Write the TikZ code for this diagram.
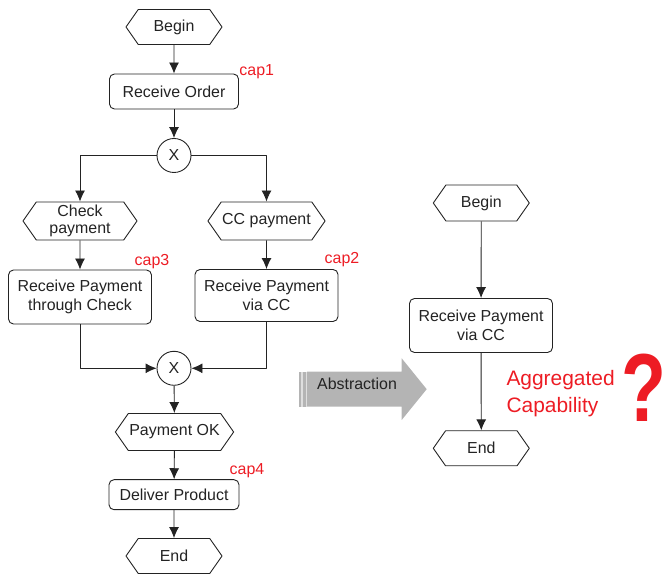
\documentclass[tikz,border=0pt]{standalone}
\usepackage{fontspec}
\setmainfont{Liberation Sans}
\usetikzlibrary{shapes.symbols,arrows.meta}
\definecolor{capred}{RGB}{237,28,36}
\definecolor{arrowgray}{RGB}{180,180,180}
\definecolor{stripegray}{RGB}{222,222,222}
\definecolor{linegray}{RGB}{35,35,35}
\begin{document}
\begin{tikzpicture}[>={Latex[length=11bp,width=10bp]},line join=bevel,
  every node/.style={font=\fontsize{16}{19}\selectfont,text=linegray},
  event/.style={draw=linegray,line width=0.9bp,signal,signal to=east and west,
    signal pointer angle=110,minimum width=96bp,minimum height=35bp,inner sep=1bp,align=center},
  func/.style={draw=linegray,line width=0.9bp,rounded corners=5bp,minimum height=30bp,align=center},
  xorgate/.style={draw=linegray,line width=0.9bp,circle,minimum size=34bp,inner sep=0pt},
  caplabel/.style={text=capred},
  flow/.style={draw=linegray,line width=0.9bp,->}]
\useasboundingbox (0bp,0bp) rectangle (666bp,576bp);
%% original process
\node (begin1) at (174bp,549bp) [event] {Begin};
  \node (order) at (174bp,484.5bp) [func,minimum width=129bp,minimum height=35bp] {Receive Order};
  \node (xor1) at (174bp,420.5bp) [xorgate] {X};
  \node (check) at (80bp,355bp) [event,minimum width=114bp,minimum height=38bp] {Check\\[-2bp]payment};
  \node (ccpay) at (266.5bp,355bp) [event,minimum width=113bp,minimum height=38bp] {CC payment};
  \node (rpcheck) at (80bp,279bp) [func,minimum width=143bp,minimum height=54bp] {Receive Payment\\through Check};
  \node (rpcc) at (266.5bp,280.5bp) [func,minimum width=143bp,minimum height=52bp] {Receive Payment\\via CC};
  \node (xor2) at (174bp,207.7bp) [xorgate] {X};
  \node (payok) at (174.5bp,144bp) [event,minimum width=114bp,minimum height=37bp] {Payment OK};
  \node (deliver) at (174bp,81.3bp) [func,minimum width=130bp] {Deliver Product};
  \node (end1) at (174bp,20bp) [event] {End};
  \node (cap1) at (256.7bp,504.3bp) [caplabel] {cap1};
  \node (cap2) at (342bp,316bp) [caplabel] {cap2};
  \node (cap3) at (152bp,314.3bp) [caplabel] {cap3};
  \node (cap4) at (247bp,105bp) [caplabel] {cap4};
  \draw [flow] (begin1) -- (order);
  \draw [flow] (order) -- (xor1);
  \draw [flow] (xor1) -| (check);
  \draw [flow] (xor1) -| (ccpay);
  \draw [flow] (check) -- (rpcheck);
  \draw [flow] (ccpay) -- (rpcc);
  \draw [flow] (rpcheck) |- (xor2);
  \draw [flow] (rpcc) |- (xor2);
  \draw [flow] (xor2) -- (payok);
  \draw [flow] (payok) -- (deliver);
  \draw [flow] (deliver) -- (end1);
%% abstraction arrow
\fill [arrowgray] (307bp,204.3bp) -- (401.7bp,204.3bp) -- (401.7bp,217.7bp) -- (426.7bp,186.8bp)
  -- (401.7bp,156bp) -- (401.7bp,169.3bp) -- (307bp,169.3bp) -- cycle;
\fill [arrowgray] (298.5bp,169.3bp) rectangle (301bp,204.3bp);
\fill [stripegray] (301bp,169.3bp) rectangle (302.5bp,204.3bp);
\fill [arrowgray] (302.5bp,169.3bp) rectangle (305.5bp,204.3bp);
\fill [stripegray] (305.5bp,169.3bp) rectangle (307bp,204.3bp);
\node (abstr) at (357bp,192bp) {Abstraction};
%% aggregated process
\node (begin2) at (481.3bp,373bp) [event,minimum height=36bp] {Begin};
  \node (rpcc2) at (481bp,250.5bp) [func,minimum width=143bp,minimum height=54bp] {Receive Payment\\via CC};
  \node (end2) at (481.3bp,127.7bp) [event] {End};
  \node (aggr) at (503bp,182.7bp) [anchor=west,align=left,text=capred,font=\fontsize{21}{27}\selectfont] {Aggregated\\Capability};
  \node (quest) at (643.5bp,188bp) [text=capred,font=\bfseries\fontsize{97}{97}\selectfont,inner sep=0pt,xscale=0.76,transform shape] {?};
  \draw [flow] (begin2) -- (rpcc2);
  \draw [flow] (rpcc2) -- (end2);
%
\end{tikzpicture}
\end{document}
